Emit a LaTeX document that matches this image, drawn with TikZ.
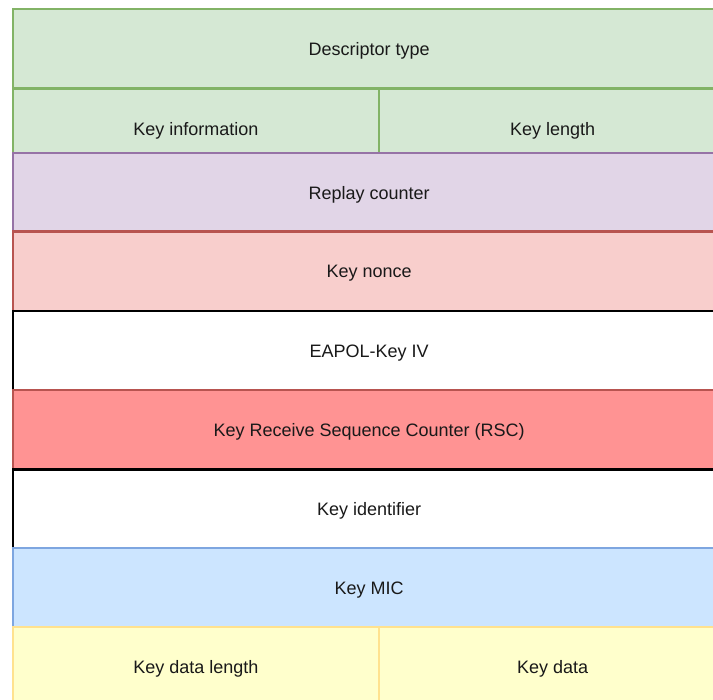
\documentclass[tikz,border=0pt]{standalone}
\usepackage{fontspec}
\setmainfont{Liberation Sans}
\definecolor{grnFill}{HTML}{D5E8D4}\definecolor{grnLine}{HTML}{82B366}
\definecolor{purFill}{HTML}{E1D5E7}\definecolor{purLine}{HTML}{9673A6}
\definecolor{redFill}{HTML}{F8CECC}\definecolor{redLine}{HTML}{B85450}
\definecolor{rscFill}{HTML}{FF9393}
\definecolor{bluFill}{HTML}{CCE5FF}\definecolor{bluLine}{HTML}{7EA6E0}
\definecolor{yelFill}{HTML}{FFFFCC}\definecolor{yelLine}{HTML}{FFE28F}
\tikzset{
  field/.style={draw, rectangle, line width=2.2pt, anchor=north west, inner sep=0pt,
    minimum height=79.5pt, font=\fontsize{18}{21}\selectfont, text=black!90,
    text height=13pt, text depth=0pt},
  wide/.style={field, minimum width=713pt},
  half/.style={field, minimum width=366.5pt},
  halfr/.style={field, minimum width=347pt},
  green/.style={fill=grnFill, draw=grnLine},
  purple/.style={fill=purFill, draw=purLine},
  red/.style={fill=redFill, draw=redLine},
  plain/.style={fill=white, draw=black},
  rsc/.style={fill=rscFill, draw=redLine},
  blue/.style={fill=bluFill, draw=bluLine},
  yellow/.style={fill=yelFill, draw=yelLine}
}
\begin{document}
\begin{tikzpicture}[x=1pt, y=-1pt]
\useasboundingbox (0,0) rectangle (713,700);
\clip (0,0) rectangle (713,700);
\node[wide, green] (desc) at (11.5,8) {Descriptor type};
\node[half, green] (kinfo) at (11.5,88) {Key information};
\node[halfr, green] (klen) at (378,88) {Key length};
\node[wide, purple] (replay) at (11.5,152) {Replay counter};
\node[wide, red] (nonce) at (11.5,230.5) {Key nonce};
\node[wide, plain] (iv) at (11.5,310) {EAPOL-Key IV};
\node[wide, rsc] (rscbox) at (11.5,389) {Key Receive Sequence Counter (RSC)};
\node[wide, plain] (kid) at (11.5,468.5) {Key identifier};
\node[wide, blue] (mic) at (11.5,547) {Key MIC};
\node[half, yellow] (kdlen) at (11.5,626) {Key data length};
\node[halfr, yellow] (kdata) at (378,626) {Key data};
\end{tikzpicture}
\end{document}
